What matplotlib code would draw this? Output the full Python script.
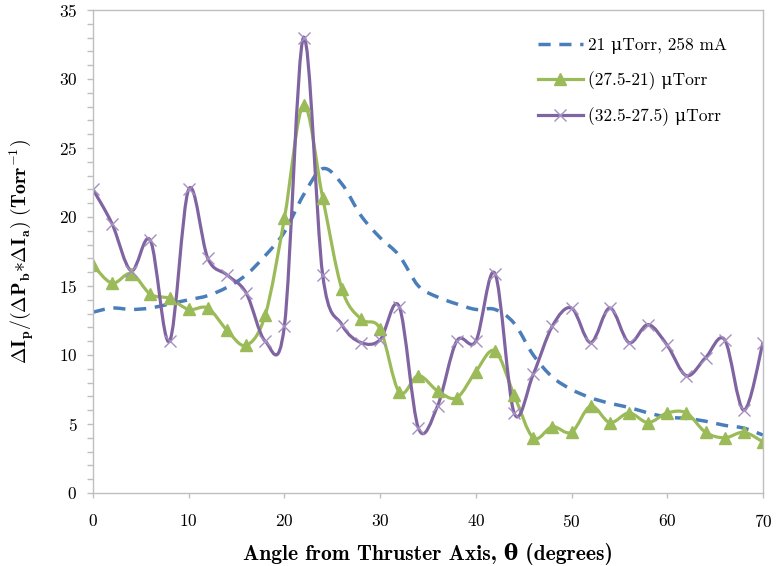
import numpy as np
import matplotlib
matplotlib.use("Agg")
import matplotlib.pyplot as plt
from matplotlib.path import Path
from matplotlib.patches import PathPatch
from matplotlib.lines import Line2D

plt.rcParams['mathtext.fontset'] = 'cm'
plt.rcParams['axes.formatter.use_mathtext'] = True

angle = np.arange(0, 72, 2)

base_21 = [13.1, 13.4, 13.3, 13.4, 13.7, 14.0, 14.3, 14.9, 15.8, 17.2, 18.9, 21.6,
           23.5, 22.4, 20.1, 18.5, 17.2, 15.0, 14.2, 13.7, 13.3, 13.3, 12.3, 10.0,
           8.4, 7.5, 6.9, 6.5, 6.2, 5.8, 5.5, 5.4, 5.2, 4.9, 4.7, 4.2]

diff_275_21 = [16.5, 15.2, 15.9, 14.4, 14.1, 13.3, 13.4, 11.8, 10.7, 12.9, 19.9, 28.1,
               21.4, 14.8, 12.6, 11.9, 7.3, 8.5, 7.4, 6.9, 8.8, 10.3, 7.1, 4.0,
               4.8, 4.4, 6.3, 5.1, 5.8, 5.1, 5.8, 5.8, 4.4, 4.0, 4.4, 3.7]

diff_325_275 = [22.0, 19.5, 16.1, 18.3, 11.0, 22.0, 17.0, 15.8, 14.5, 11.0, 12.1, 33.0,
                15.8, 12.2, 10.9, 11.1, 13.5, 4.7, 6.3, 11.0, 11.0, 15.9, 5.8, 8.6,
                12.1, 13.4, 10.9, 13.4, 10.9, 12.2, 10.7, 8.5, 9.8, 11.1, 6.0, 10.9]

labels = ['21 μTorr, 258 mA', '(27.5-21) μTorr', '(32.5-27.5) μTorr']

blue = '#4a7ebb'
green = '#9bbb59'
purple = '#8064a2'
xmark = '#a48fc0'


def smooth_path(x, y):
    # excel-like smoothed line: cubic bezier through every point
    p = np.column_stack([x, y]).astype(float)
    n = len(p)
    verts = [p[0]]
    codes = [Path.MOVETO]
    for i in range(n - 1):
        p0 = p[i - 1] if i > 0 else p[i]
        p3 = p[i + 2] if i + 2 < n else p[i + 1]
        c1 = p[i] + (p[i + 1] - p0) / 6.0
        c2 = p[i + 1] - (p3 - p[i]) / 6.0
        verts += [c1, c2, p[i + 1]]
        codes += [Path.CURVE4] * 3
    return Path(verts, codes)


fig = plt.figure(figsize=(7.76, 5.66), dpi=100)
ax = fig.add_axes([0.1198, 0.129, 0.8634, 0.8534])

ax.add_patch(PathPatch(smooth_path(angle, base_21), fill=False, edgecolor=blue,
                       lw=2.5, linestyle=(0, (3.5, 2.5)), capstyle='butt'))
ax.add_patch(PathPatch(smooth_path(angle, diff_275_21), fill=False,
                       edgecolor=green, lw=2.3))
ax.add_patch(PathPatch(smooth_path(angle, diff_325_275), fill=False,
                       edgecolor=purple, lw=2.3))
ax.plot(angle, diff_275_21, ls='none', marker='^', ms=8, color=green)
ax.plot(angle, diff_325_275, ls='none', marker='x', ms=8.5, mew=1.0,
        color=xmark)

ax.set_xlim(0, 70)
ax.set_ylim(0, 35)
ax.set_xticks(np.arange(0, 80, 10))
ax.set_yticks(np.arange(0, 40, 5))
ax.set_yticks(np.arange(0, 36, 1), minor=True)

for s in ax.spines.values():
    s.set_color('#bfbfbf')
    s.set_linewidth(1.0)
ax.tick_params(axis='both', which='both', color='#bfbfbf', width=1.0,
               direction='out', labelsize=12.5)
ax.tick_params(axis='y', which='both', length=4.3, pad=7)
ax.tick_params(axis='x', which='both', length=3.6, pad=11)
for t in ax.get_xticklabels() + ax.get_yticklabels():
    t.set_family('cmr10')

ax.set_xlabel('Angle from Thruster Axis, θ (degrees)',
              family=['cmb10', 'DejaVu Serif'], fontweight='bold', fontsize=15.5,
              labelpad=9)
ax.set_ylabel(r'$\mathbf{\Delta I_p/(\Delta P_b{*}\Delta I_a)\ (Torr^{-1})}$',
              fontsize=14.3, labelpad=16)

handles = [
    Line2D([], [], color=blue, lw=2.5, linestyle=(0, (3.5, 2.5))),
    Line2D([], [], color=green, lw=2.3, marker='^', ms=8),
    Line2D([], [], color=purple, lw=2.3, marker='x', ms=8.5, mew=1.0, mec=xmark),
]
leg = ax.legend(handles, labels, loc='upper left', bbox_to_anchor=(0.664, 0.943),
                frameon=False, handlelength=2.6, handletextpad=0.3,
                labelspacing=1.0, borderpad=0, borderaxespad=0,
                prop={'family': ['cmr10', 'DejaVu Serif'], 'size': 12.5})

fig.savefig('out.png', dpi=100)
